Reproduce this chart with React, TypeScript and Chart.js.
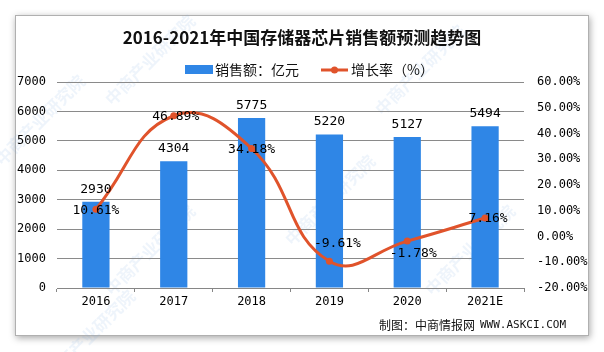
import React, { useEffect, useRef } from "react";
import { Chart, registerables } from "chart.js";

Chart.register(...registerables);

const titleText = "2016-2021年中国存储器芯片销售额预测趋势图";
const categories = ["2016", "2017", "2018", "2019", "2020", "2021E"];
const salesValues = [2930, 4304, 5775, 5220, 5127, 5494];
const growthValues = [10.61, 46.89, 34.18, -9.61, -1.78, 7.16];
const salesLabel = "销售额：亿元";
const growthLabel = "增长率（%）";
const sourceCn = "制图：中商情报网";
const sourceUrl = "WWW.ASKCI.COM";
const watermarkText = "中商产业研究院";

// label nudges (styling only)
const growthLabelShift = [
  [0, 0],
  [2, 0],
  [0, 0],
  [8, -19],
  [6, 12],
  [3, 0],
];
const watermarkSpots = [
  [40, 120],
  [150, 60],
  [420, 70],
  [150, 250],
  [330, 200],
  [470, 250],
  [90, 335],
];

const BLUE = "#2F86E6";
const RED = "#E0532B";
const MONO = "'DejaVu Sans Mono', monospace";
const CJK = "'Noto Sans CJK SC', sans-serif";

const decoPlugin = {
  id: "deco",
  beforeDraw(chart: any) {
    const ctx = chart.ctx;
    ctx.save();
    ctx.fillStyle = "#ffffff";
    ctx.fillRect(0, 0, chart.width, chart.height);
    ctx.shadowColor = "rgba(0,0,0,0.35)";
    ctx.shadowBlur = 7;
    ctx.shadowOffsetX = 1;
    ctx.shadowOffsetY = 2;
    ctx.fillRect(15, 15, 574, 321);
    ctx.shadowColor = "transparent";
    ctx.strokeStyle = "#b0b0b0";
    ctx.lineWidth = 1;
    ctx.strokeRect(15.5, 15.5, 573, 320);
    // watermarks
    ctx.font = "bold 17px " + CJK;
    ctx.fillStyle = "rgba(120,170,225,0.13)";
    ctx.textAlign = "center";
    ctx.textBaseline = "middle";
    watermarkSpots.forEach(([x, y]) => {
      ctx.save();
      ctx.translate(x, y);
      ctx.rotate(-Math.PI / 4);
      ctx.fillText(watermarkText, 0, 0);
      ctx.restore();
    });
    // title
    ctx.fillStyle = "#111";
    ctx.font = "bold 17px " + CJK;
    ctx.textAlign = "center";
    ctx.textBaseline = "middle";
    ctx.fillText(titleText, 302, 38);
    // legend
    ctx.font = "14px " + CJK;
    ctx.textAlign = "left";
    ctx.fillStyle = BLUE;
    ctx.fillRect(185, 65, 28, 9);
    ctx.fillStyle = "#111";
    ctx.fillText(salesLabel, 215, 70);
    ctx.strokeStyle = RED;
    ctx.lineWidth = 3;
    ctx.beginPath();
    ctx.moveTo(321, 70);
    ctx.lineTo(348, 70);
    ctx.stroke();
    ctx.fillStyle = RED;
    ctx.beginPath();
    ctx.arc(334.5, 70, 3.5, 0, Math.PI * 2);
    ctx.fill();
    ctx.fillStyle = "#111";
    ctx.fillText(growthLabel, 351, 70);
    // source
    ctx.font = "11px " + MONO;
    ctx.textAlign = "right";
    ctx.fillText(sourceUrl, 566, 325);
    const w = ctx.measureText(sourceUrl).width;
    ctx.font = "12px " + CJK;
    ctx.fillText(sourceCn, 566 - w - 5, 325);
    ctx.restore();
  },
  afterDatasetsDraw(chart: any) {
    const ctx = chart.ctx;
    ctx.save();
    ctx.fillStyle = "#000";
    ctx.font = "13px " + MONO;
    ctx.textAlign = "center";
    const barMeta = chart.getDatasetMeta(1);
    barMeta.data.forEach((el: any, i: number) => {
      ctx.textBaseline = "bottom";
      ctx.fillText(String(salesValues[i]), el.x, el.y - 6);
    });
    const lineMeta = chart.getDatasetMeta(0);
    lineMeta.data.forEach((el: any, i: number) => {
      ctx.textBaseline = "middle";
      const [dx, dy] = growthLabelShift[i];
      ctx.fillText(growthValues[i].toFixed(2) + "%", el.x + dx, el.y + dy + 1);
    });
    ctx.restore();
  },
};

export default function App() {
  const ref = useRef<HTMLCanvasElement>(null);
  useEffect(() => {
    document.body.style.margin = "0";
    const chart = new Chart(ref.current as HTMLCanvasElement, {
      type: "bar",
      data: {
        labels: categories,
        datasets: [
          {
            type: "line",
            label: growthLabel,
            data: growthValues,
            yAxisID: "y1",
            borderColor: RED,
            backgroundColor: RED,
            borderWidth: 3,
            pointRadius: 3.5,
            pointBackgroundColor: RED,
            pointBorderWidth: 0,
            tension: 0.45,
            order: 0,
          } as any,
          {
            type: "bar",
            label: salesLabel,
            data: salesValues,
            yAxisID: "y",
            backgroundColor: BLUE,
            categoryPercentage: 1,
            barPercentage: 0.35,
            order: 1,
          },
        ],
      },
      options: {
        animation: false,
        responsive: false,
        layout: { padding: { top: 82, left: 0, right: 0, bottom: 0 } },
        plugins: { legend: { display: false }, title: { display: false }, tooltip: { enabled: false } },
        scales: {
          x: {
            grid: { drawOnChartArea: false, color: "#868686", tickLength: 4, offset: true },
            border: { display: true, color: "#868686" },
            ticks: { color: "#000", font: { family: MONO, size: 12 }, padding: 3 },
            afterFit: (s: any) => {
              s.height = 64;
            },
          },
          y: {
            position: "left",
            min: 0,
            max: 7000,
            ticks: {
              stepSize: 1000,
              color: "#000",
              font: { family: MONO, size: 12 },
              padding: 11,
              callback: (v: any) => String(v),
            },
            grid: { color: "#8a8a8a", drawTicks: false },
            border: { display: false },
            afterFit: (s: any) => {
              s.width = 57;
            },
          },
          y1: {
            position: "right",
            min: -20,
            max: 60,
            ticks: {
              stepSize: 10,
              color: "#000",
              font: { family: MONO, size: 12 },
              padding: 13,
              callback: (v: any) => Number(v).toFixed(2) + "%",
            },
            grid: { drawOnChartArea: false, drawTicks: false },
            border: { display: false },
            afterFit: (s: any) => {
              s.width = 80;
            },
          },
        },
      } as any,
      plugins: [decoPlugin],
    });
    return () => chart.destroy();
  }, []);
  return (
    <div style={{ position: "absolute", left: 0, top: 0, width: 604, height: 352 }}>
      <canvas ref={ref} width={604} height={352} style={{ width: 604, height: 352, display: "block" }} />
    </div>
  );
}
